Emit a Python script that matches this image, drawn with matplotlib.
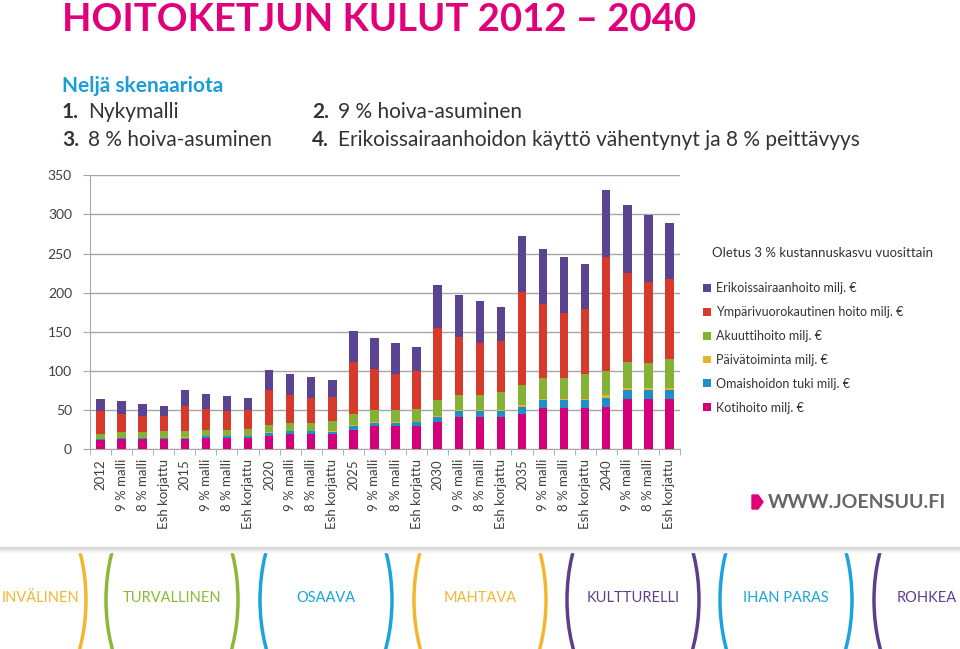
import matplotlib.pyplot as plt
from matplotlib.patches import Ellipse, Polygon
import numpy as np

plt.rcParams['font.family'] = ['Lato', 'DejaVu Sans']

categories = ["2012", "9 % malli", "8 % malli", "Esh korjattu",
              "2015", "9 % malli", "8 % malli", "Esh korjattu",
              "2020", "9 % malli", "8 % malli", "Esh korjattu",
              "2025", "9 % malli", "8 % malli", "Esh korjattu",
              "2030", "9 % malli", "8 % malli", "Esh korjattu",
              "2035", "9 % malli", "8 % malli", "Esh korjattu",
              "2040", "9 % malli", "8 % malli", "Esh korjattu"]

kotihoito = [11.5, 12.8, 12.8, 12.8, 12.8, 14.9, 14.9, 14.9,
             17.5, 20.0, 20.0, 19.5, 25.0, 29.5, 29.5, 29.8,
             34.5, 41.3, 41.3, 41.3, 44.7, 52.4, 52.4, 52.4,
             54.5, 64.3, 64.3, 64.3]
omaishoito = [1.3, 1.5, 1.5, 1.5, 2.0, 2.0, 2.0, 2.0,
              3.3, 3.0, 3.0, 3.0, 4.5, 4.5, 4.5, 4.5,
              7.2, 7.2, 7.2, 7.2, 9.4, 10.2, 10.2, 10.2,
              11.5, 11.5, 11.5, 11.5]
paivatoiminta = [0.4, 0.5, 0.5, 0.5, 0.5, 0.6, 0.6, 0.6,
                 0.9, 0.8, 0.8, 0.8, 1.0, 1.0, 1.0, 1.0,
                 1.3, 1.3, 1.3, 1.3, 2.0, 1.3, 1.3, 1.3,
                 3.0, 3.0, 3.0, 3.0]
akuutti = [6.0, 6.9, 6.9, 8.2, 7.7, 7.6, 7.6, 8.9,
           9.0, 10.3, 10.3, 12.5, 15.1, 14.8, 15.2, 16.6,
           20.4, 20.0, 20.0, 23.0, 26.5, 27.2, 27.2, 31.9,
           31.5, 32.3, 31.9, 36.6]
ymparivuoro = [29.3, 23.0, 20.4, 20.0, 32.3, 26.4, 23.4, 23.4,
               44.7, 35.7, 31.5, 31.0, 66.4, 52.8, 46.4, 47.7,
               92.0, 73.7, 65.6, 65.1, 118.8, 94.1, 83.4, 83.4,
               145.1, 114.5, 102.6, 102.6]
erikois = [16.2, 16.6, 16.2, 12.8, 20.1, 19.6, 19.6, 15.8,
           26.3, 26.0, 26.4, 21.3, 39.1, 39.2, 39.2, 30.7,
           54.5, 53.6, 53.6, 43.9, 70.6, 71.1, 71.1, 57.9,
           85.6, 86.4, 86.0, 70.6]

series = [
    ("Kotihoito milj. €", kotihoito, "#d4007a"),
    ("Omaishoidon tuki milj. €", omaishoito, "#1e8fc9"),
    ("Päivätoiminta milj. €", paivatoiminta, "#e6b32e"),
    ("Akuuttihoito milj. €", akuutti, "#84b136"),
    ("Ympärivuorokautinen hoito milj. €", ymparivuoro, "#d73a2a"),
    ("Erikoissairaanhoito milj. €", erikois, "#5a4491"),
]

fig = plt.figure(figsize=(9.6, 6.49), dpi=100)
fig.patch.set_facecolor("white")

# slide texts
fig.text(62 / 960, 1 - 20 / 649, "HOITOKETJUN KULUT 2012 – 2040", color="#e2007a",
         fontsize=27.5, fontweight="bold", va="center", ha="left")
fig.text(62 / 960, 1 - 86 / 649, "Neljä skenaariota", color="#1b9dd9",
         fontsize=15, fontweight="bold", va="center", ha="left")
txt = "#333333"
fig.text(62 / 960, 1 - 112 / 649, "1.", color=txt, fontsize=15, fontweight="bold", va="center")
fig.text(88 / 960, 1 - 112 / 649, "Nykymalli", color=txt, fontsize=15, va="center")
fig.text(312 / 960, 1 - 112 / 649, "2.", color=txt, fontsize=15, fontweight="bold", va="center")
fig.text(338 / 960, 1 - 112 / 649, "9 % hoiva-asuminen", color=txt, fontsize=15, va="center")
fig.text(62 / 960, 1 - 140 / 649, "3.", color=txt, fontsize=15, fontweight="bold", va="center")
fig.text(88 / 960, 1 - 140 / 649, "8 % hoiva-asuminen", color=txt, fontsize=15, va="center")
fig.text(312 / 960, 1 - 140 / 649, "4.", color=txt, fontsize=15, fontweight="bold", va="center")
fig.text(338 / 960, 1 - 140 / 649, "Erikoissairaanhoidon käyttö vähentynyt ja 8 % peittävyys",
         color=txt, fontsize=15, va="center")

# chart
ax = fig.add_axes([90 / 960, 1 - 449.3 / 649, 590 / 960, 274 / 649])
x = np.arange(len(categories))
bottom = np.zeros(len(categories))
for label, vals, col in series:
    ax.bar(x, vals, width=0.4, bottom=bottom, color=col, label=label, zorder=3)
    bottom += np.array(vals)

ax.set_xlim(-0.5, len(categories) - 0.5)
ax.set_ylim(0, 350)
ax.set_yticks(range(0, 351, 50))
ax.yaxis.grid(True, color="#a6a6a6", lw=1)
ax.set_axisbelow(True)
for s in ["top", "right"]:
    ax.spines[s].set_visible(False)
for s in ["left", "bottom"]:
    ax.spines[s].set_color("#a6a6a6")
ax.tick_params(axis="y", colors="#a6a6a6", length=5, labelcolor="#404040", labelsize=10, pad=8)
ax.set_xticks(x)
ax.set_xticklabels(categories, rotation=90, fontsize=9.5, color="#404040")
ax.tick_params(axis="x", which="major", length=0, pad=7)
ax.set_xticks(np.arange(-0.5, len(categories)), minor=True)
ax.tick_params(axis="x", which="minor", length=4, color="#a6a6a6")

handles, labels = ax.get_legend_handles_labels()
fig.legend(handles[::-1], labels[::-1], loc="upper left",
           bbox_to_anchor=(692 / 960, 1 - 271 / 649), frameon=False,
           fontsize=9, labelspacing=0.95, handlelength=0.6, handleheight=0.6,
           handletextpad=0.45, labelcolor="#333333")
fig.text(712 / 960, 1 - 253 / 649, "Oletus 3 % kustannuskasvu vuosittain",
         fontsize=9.5, color="#333333", va="center")

# logo
fig.patches.append(Polygon([[752 / 960, 1 - 495 / 649], [758 / 960, 1 - 495 / 649],
                            [763 / 960, 1 - 502 / 649], [758 / 960, 1 - 509 / 649],
                            [752 / 960, 1 - 509 / 649]], closed=True,
                           transform=fig.transFigure, color="#e2007a"))
fig.text(768 / 960, 1 - 502 / 649, "WWW.JOENSUU.FI", fontsize=14, fontweight="bold",
         color="#666666", va="center")

# footer band
fax = fig.add_axes([0, 0, 1, 102 / 649])
fax.set_xlim(0, 960)
fax.set_ylim(649, 547)
fax.axis("off")
for i in range(6):
    fax.axhline(547 + i, color=str(0.82 + i * 0.03), lw=1)
rings = [(20, "#f2b730"), (172, "#8bb935"), (326, "#1ba3de"), (480, "#f2b730"),
         (633, "#5b3f8f"), (786, "#1ba3de"), (940, "#5b3f8f")]
for cx, col in rings:
    e = Ellipse((cx, 600), 132, 230, fill=False, edgecolor=col, lw=2.5)
    e.set_clip_box(fax.bbox)
    fax.add_patch(e)
words = [("INVÄLINEN", 2, "left", "#f2b730"), ("TURVALLINEN", 172, "center", "#8bb935"),
         ("OSAAVA", 326, "center", "#1ba3de"), ("MAHTAVA", 480, "center", "#f2b730"),
         ("KULTTURELLI", 633, "center", "#5b3f8f"), ("IHAN PARAS", 786, "center", "#1ba3de"),
         ("ROHKEA", 957, "right", "#5b3f8f")]
for w, tx, ha, col in words:
    fax.text(tx, 598, w, color=col, fontsize=10.5, ha=ha, va="center")

fig.savefig("out.png", dpi=100)
